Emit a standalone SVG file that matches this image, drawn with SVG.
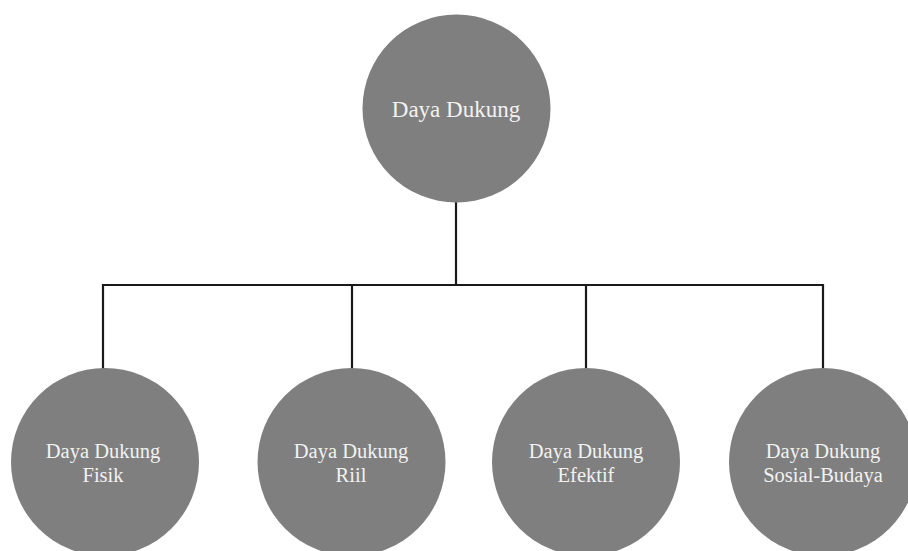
<svg xmlns="http://www.w3.org/2000/svg" width="908" height="551" viewBox="0 0 908 551">
<style>
.node{fill:#7f7f7f}
.lbl{font-family:"Liberation Serif","Times New Roman",serif;fill:#f2f2f2;text-anchor:middle}
.top{font-size:23px}
.sub{font-size:20.5px}
.conn{stroke:#1a1a1a;stroke-width:2.2;fill:none}
</style>
<rect width="908" height="551" fill="#ffffff"/>
<g id="connectors">
<path class="conn" d="M456 200 V285"/>
<path class="conn" d="M103 285 H823"/>
<path class="conn" d="M103 284 V369"/>
<path class="conn" d="M352 284 V369"/>
<path class="conn" d="M586 284 V369"/>
<path class="conn" d="M823 284 V369"/>
</g>
<g id="daya-dukung">
<circle class="node" cx="456.5" cy="108.5" r="94"/>
<text class="lbl top" x="456" y="117">Daya Dukung</text>
</g>
<g id="fisik">
<circle class="node" cx="105" cy="462" r="94"/>
<text class="lbl sub" x="103" y="458">Daya Dukung</text>
<text class="lbl sub" x="103" y="482">Fisik</text>
</g>
<g id="riil">
<circle class="node" cx="351.5" cy="462" r="94"/>
<text class="lbl sub" x="351" y="458">Daya Dukung</text>
<text class="lbl sub" x="351" y="482">Riil</text>
</g>
<g id="efektif">
<circle class="node" cx="586" cy="462" r="94"/>
<text class="lbl sub" x="586" y="458">Daya Dukung</text>
<text class="lbl sub" x="586" y="482">Efektif</text>
</g>
<g id="sosial-budaya">
<circle class="node" cx="823" cy="462" r="94"/>
<text class="lbl sub" x="823" y="458">Daya Dukung</text>
<text class="lbl sub" x="823" y="482">Sosial-Budaya</text>
</g>
</svg>
